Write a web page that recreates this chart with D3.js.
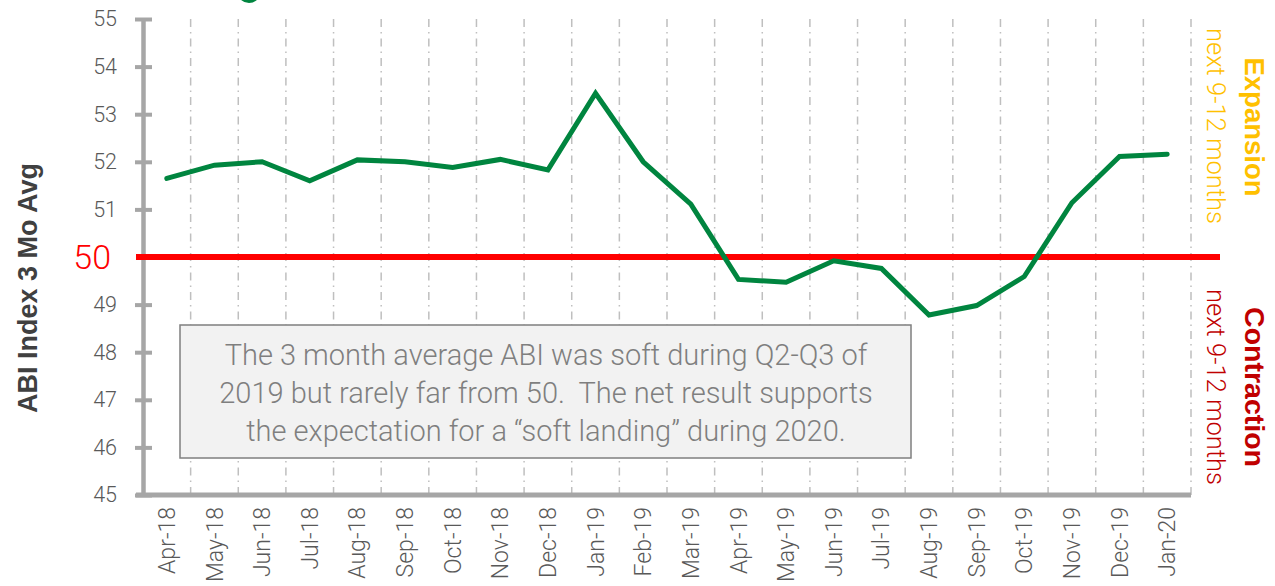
<!DOCTYPE html>
<html><head><meta charset="utf-8">
<script src="https://cdn.jsdelivr.net/npm/d3@7"></script>
<style>
html,body{margin:0;padding:0;background:#fff;}
svg{display:block;}
</style></head>
<body>
<svg id="chart" width="1275" height="586"></svg>
<script>
const categories = ["Apr-18","May-18","Jun-18","Jul-18","Aug-18","Sep-18","Oct-18","Nov-18","Dec-18","Jan-19","Feb-19","Mar-19","Apr-19","May-19","Jun-19","Jul-19","Aug-19","Sep-19","Oct-19","Nov-19","Dec-19","Jan-20"];
const abi3mo = [51.65,51.93,52.0,51.6,52.04,52.0,51.88,52.05,51.83,53.44,52.0,51.11,49.53,49.47,49.92,49.76,48.78,48.98,49.59,51.14,52.11,52.16];
const yTicks = [45,46,47,48,49,51,52,53,54,55];
const threshold = 50;
const noteLines = ["The 3 month average ABI was soft during Q2-Q3 of","2019 but rarely far from 50.  The net result supports","the expectation for a \u201csoft landing\u201d during 2020."];

const svg = d3.select("#chart");
const L = 143, R = 1191, T = 19, B = 495;
const x = d3.scaleBand().domain(categories).range([L, R]).padding(0);
const y = d3.scaleLinear().domain([45, 55]).range([B, T]);
const axisGrey = "#a6a6a6", textGrey = "#595959";
const lightFont = "Roboto, 'Liberation Sans', sans-serif";

// partial title glyph at top
svg.append("circle").attr("cx", 249).attr("cy", -9).attr("r", 10)
  .attr("fill", "none").attr("stroke", "#00853f").attr("stroke-width", 4);

// vertical dash-dot gridlines at category boundaries
svg.append("g").selectAll("line").data(categories).join("line")
  .attr("x1", d => x(d) + x.bandwidth()).attr("x2", d => x(d) + x.bandwidth())
  .attr("y1", T).attr("y2", B)
  .attr("stroke", "#bfbfbf").attr("stroke-width", 1.5)
  .attr("stroke-dasharray", "8,5,1.5,5");

// annotation box
const box = svg.append("g");
box.append("rect").attr("x", 180).attr("y", 325).attr("width", 731).attr("height", 133)
  .attr("fill", "#f2f2f2").attr("stroke", "#7f7f7f").attr("stroke-width", 1.5);
box.selectAll("text").data(noteLines).join("text")
  .attr("x", 546).attr("y", (d, i) => 355 + i * 38).attr("dy", "0.35em")
  .attr("text-anchor", "middle").attr("font-family", lightFont).attr("font-weight", 300)
  .attr("font-size", 29).attr("fill", "#7f7f7f").style("white-space", "pre").text(d => d);

// Y axis
const yAxis = svg.append("g").attr("transform", `translate(${L},0)`)
  .call(d3.axisLeft(y).tickValues(yTicks).tickFormat(d3.format("d")).tickSizeOuter(0));
yAxis.select(".domain").attr("stroke", axisGrey).attr("stroke-width", 4.5);
yAxis.selectAll(".tick line").attr("x1", -8).attr("x2", 9).attr("stroke", axisGrey).attr("stroke-width", 4);
yAxis.selectAll(".tick text").attr("x", -26).attr("font-family", lightFont).attr("font-weight", 300)
  .attr("font-size", 21.5).attr("fill", textGrey);

// X axis
const xAxis = svg.append("g").attr("transform", `translate(0,${B})`)
  .call(d3.axisBottom(x).tickSize(0).tickSizeOuter(0));
xAxis.select(".domain").attr("stroke", axisGrey).attr("stroke-width", 5)
  .attr("d", `M${L - 7},0H${R}`);
xAxis.selectAll(".tick text")
  .attr("transform", "rotate(-90)").attr("text-anchor", "end")
  .attr("x", -12).attr("y", 0).attr("dy", "0.35em")
  .attr("font-family", lightFont).attr("font-weight", 300).attr("font-size", 23).attr("fill", textGrey);

// threshold line
svg.append("line").attr("x1", L - 7).attr("x2", 1220).attr("y1", y(threshold)).attr("y2", y(threshold))
  .attr("stroke", "#ff0000").attr("stroke-width", 6);
svg.append("text").attr("x", 111).attr("y", y(threshold)).attr("dy", "0.35em").attr("text-anchor", "end")
  .attr("font-family", lightFont).attr("font-weight", 300).attr("font-size", 34).attr("fill", "#ff0000").text(threshold);

// data line
svg.append("path").datum(abi3mo)
  .attr("fill", "none").attr("stroke", "#00853f").attr("stroke-width", 5)
  .attr("stroke-linejoin", "miter").attr("stroke-linecap", "round")
  .attr("d", d3.line().x((d, i) => x(categories[i]) + x.bandwidth() / 2).y(d => y(d)));

// Y title
svg.append("text").attr("transform", "translate(28,288) rotate(-90)").attr("dy", "0.35em")
  .attr("text-anchor", "middle").attr("font-family", "'Liberation Sans', Arial, sans-serif")
  .attr("font-weight", "bold").attr("font-size", 27).attr("fill", "#404040").text("ABI Index 3 Mo Avg");

// right-side labels
function sideLabel(cx, cy, txt, size, weight, color) {
  svg.append("text").attr("transform", `translate(${cx},${cy}) rotate(90)`).attr("dy", "0.35em")
    .attr("text-anchor", "middle").attr("font-family", weight === "bold" ? "'Liberation Sans', Arial, sans-serif" : lightFont)
    .attr("font-weight", weight).attr("font-size", size).attr("fill", color).text(txt);
}
sideLabel(1255, 127, "Expansion", 27.5, "bold", "#ffc000");
sideLabel(1216, 126, "next 9-12 months", 25.5, 300, "#ffc000");
sideLabel(1255, 387, "Contraction", 28.5, "bold", "#c00000");
sideLabel(1216, 387, "next 9-12 months", 25.5, 300, "#c00000");
</script>
</body></html>
